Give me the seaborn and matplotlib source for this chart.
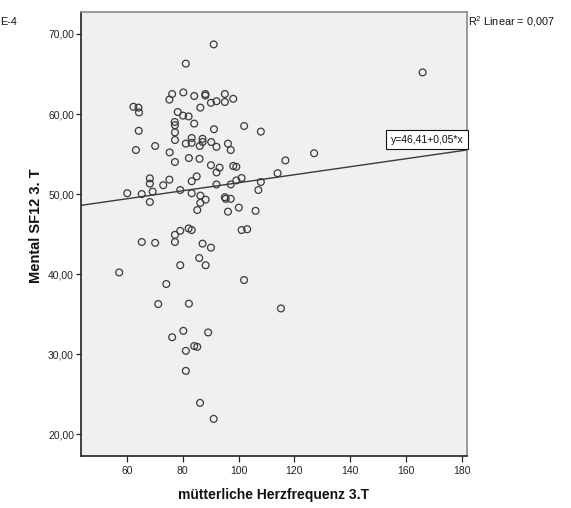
import numpy as np
import pandas as pd
import matplotlib
matplotlib.use("Agg")
import matplotlib.pyplot as plt
from matplotlib import font_manager
import seaborn as sns

# Maternal heart rate (3rd trimester) and SF-12 mental score
herzfrequenz = [
    81.1, 76.2, 75.2, 80.2, 84.1, 62.3, 64.1, 64.3, 78.2, 80.1,
    82.1, 84.1, 77.1, 77.2, 64.2, 77.2, 77.2, 83.2, 81.1, 83.2,
    86.1, 63.2, 70.1, 75.3, 77.2, 82.2, 86.0, 91.1, 88.1, 88.1,
    86.3, 90.1, 92.1, 95.1, 95.1, 98.1, 91.2, 102.0, 108.0, 87.1,
    87.1, 90.2, 92.1, 96.2, 97.2, 116.8, 68.2, 68.2, 75.2, 73.0,
    60.1, 65.3, 69.2, 68.2, 79.1, 83.2, 85.0, 83.2, 65.3, 70.1,
    77.2, 77.2, 79.1, 82.1, 83.2, 85.9, 79.1, 57.2, 90.1, 93.2,
    92.1, 98.1, 99.2, 92.1, 97.2, 99.2, 101.1, 108.0, 107.1, 114.0,
    86.3, 88.2, 86.3, 85.2, 95.1, 95.4, 97.2, 96.2, 100.1, 106.1,
    101.1, 103.1, 87.1, 90.1, 88.2, 74.1, 71.2, 82.2, 76.2, 80.2,
    89.1, 81.1, 84.1, 85.2, 81.1, 86.2, 91.1, 102.0, 115.2, 166.0,
    127.1,
]
mental_sf12 = [
    66.3, 62.5, 61.8, 62.7, 62.25, 60.9, 60.8, 60.2, 60.25, 59.8,
    59.7, 58.8, 59.0, 58.6, 57.9, 57.7, 56.75, 57.0, 56.3, 56.4,
    56.0, 55.5, 56.0, 55.2, 54.0, 54.5, 54.4, 68.7, 62.5, 62.3,
    60.8, 61.4, 61.6, 62.5, 61.5, 61.9, 58.1, 58.5, 57.8, 56.9,
    56.5, 56.5, 55.9, 56.3, 55.5, 54.2, 51.96, 51.3, 51.8, 51.1,
    50.1, 50.0, 50.3, 49.0, 50.5, 51.6, 52.2, 50.1, 44.0, 43.9,
    44.9, 44.0, 45.4, 45.7, 45.5, 42.0, 41.1, 40.2, 53.6, 53.3,
    52.7, 53.5, 53.4, 51.2, 51.2, 51.7, 52.0, 51.5, 50.5, 52.6,
    49.8, 49.3, 48.9, 48.0, 49.6, 49.4, 49.4, 47.8, 48.3, 47.9,
    45.5, 45.6, 43.8, 43.3, 41.1, 38.75, 36.25, 36.3, 32.1, 32.9,
    32.7, 30.4, 31.0, 30.9, 27.9, 23.9, 21.9, 39.25, 35.7, 65.2,
    55.1,
]

# Linear fit as reported on the chart
fit_intercept = 46.41
fit_slope = 0.05
r2_linear = 0.007

x_ticks = [60, 80, 100, 120, 140, 160, 180]
y_ticks = [20, 30, 40, 50, 60, 70]
x_limits = (43.4, 181.8)
y_limits = (17.3, 72.75)


def de_num(v, digits):
    return f"{v:.{digits}f}".replace(".", ",")


sns.set_theme(style="white")
available = {f.name for f in font_manager.fontManager.ttflist}
narrow = "Liberation Sans Narrow" if "Liberation Sans Narrow" in available else "Liberation Sans"
plt.rcParams["font.family"] = [narrow, "DejaVu Sans"]
plt.rcParams["mathtext.fontset"] = "custom"
plt.rcParams["mathtext.rm"] = narrow

fig = plt.figure(figsize=(5.71, 5.08), dpi=100)
ax = fig.add_axes([0.1413, 0.1030, 0.676, 0.8734])
ax.set_facecolor("#f0f0f0")

df = pd.DataFrame({"herzfrequenz": herzfrequenz, "mental": mental_sf12})
sns.scatterplot(
    data=df, x="herzfrequenz", y="mental", ax=ax,
    marker="o", s=24, facecolors="none", edgecolor="#3a3a3a",
    linewidth=0.9, zorder=3,
)

# Regression line across the full x range
fit_x = np.array(x_limits)
fit_df = pd.DataFrame({"x": fit_x, "y": fit_intercept + fit_slope * fit_x})
sns.lineplot(data=fit_df, x="x", y="y", ax=ax, color="#3a3a3a", linewidth=1.0, zorder=2)

ax.set_xlim(*x_limits)
ax.set_ylim(*y_limits)
ax.set_xticks(x_ticks)
ax.set_yticks(y_ticks)
ax.set_xticklabels([str(t) for t in x_ticks])
ax.set_yticklabels([de_num(t, 2) for t in y_ticks])
ax.tick_params(axis="both", which="major", direction="out", colors="#222222",
               labelsize=7.5, width=0.9)
ax.tick_params(axis="y", length=3.8, pad=1)
ax.tick_params(axis="x", length=4.3, pad=3)
ax.tick_params(left=True, bottom=True)

for side in ["top", "right"]:
    ax.spines[side].set_color("#8a8a8a")
    ax.spines[side].set_linewidth(1.2)
for side in ["left", "bottom"]:
    ax.spines[side].set_color("#222222")
    ax.spines[side].set_linewidth(1.2)

ax.set_xlabel("mütterliche Herzfrequenz 3.T", fontsize=10, fontweight="bold",
              color="#111111")
ax.set_ylabel("Mental SF12 3. T", fontsize=10.5, fontweight="bold", color="#111111")
ax.xaxis.set_label_coords(0.5, -0.073)
ax.yaxis.set_label_coords(-0.098, 0.518)

# Fit equation label at the right end of the line
eq_text = f"y={de_num(fit_intercept, 2)}+{de_num(fit_slope, 2)}*x"
ax.text(0.992, 0.712, eq_text, transform=ax.transAxes, ha="right", va="center",
        fontsize=7.5, color="#111111", zorder=5,
        bbox=dict(boxstyle="square,pad=0.42", fc="white", ec="#111111", lw=0.8))

fig.text(0.8195, 0.957, f"R$^2$ Linear = {de_num(r2_linear, 3)}", fontsize=7.8,
         ha="left", va="center", color="#111111")
fig.text(0.0, 0.957, "E-4", fontsize=7.8, ha="left", va="center", color="#111111")

fig.savefig("out.png", dpi=100)
